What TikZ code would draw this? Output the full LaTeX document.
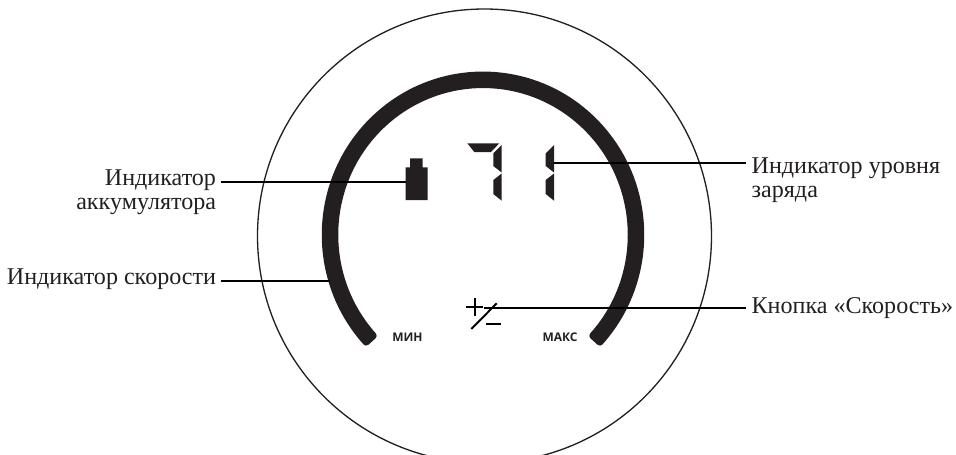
\documentclass[tikz,border=0pt]{standalone}
\usepackage{fontspec}
\setmainfont{Liberation Serif}
\newfontfamily\scalefont{Open Sans}
\usetikzlibrary{positioning, calc}
\definecolor{ink}{HTML}{231F20}

\begin{document}
\begin{tikzpicture}[
    lbl/.style={font=\fontsize{13.7}{13.7}\selectfont, inner sep=0pt, outer xsep=3pt, outer ysep=0pt, ink},
    seg/.style={fill=ink, draw=none},
    lead/.style={line width=1.1pt, black},
    scalelbl/.style={font=\scalefont\bfseries\fontsize{6.8}{7}\selectfont, inner sep=0pt, ink}
]
\useasboundingbox (0, 0) rectangle (19.12, 9.08);
\clip (0, 0) rectangle (19.12, 9.08);

% Housing
\draw[line width=0.75pt, ink] (9.69, 4.36) circle (4.54);

% Speed arc
\coordinate (arccentre) at (9.66, 4.384);
\filldraw[ink, line width=0.14cm, line join=round] ($(arccentre)+(222.2:3.155 and 3.195)$)
    arc[start angle=222.2, end angle=-42.2, x radius=3.155, y radius=3.195]
    -- ($(arccentre)+(-42.2:2.965 and 3.005)$)
    arc[start angle=-42.2, end angle=222.2, x radius=2.965, y radius=3.005] -- cycle;

% Scale ends
\node[scalelbl] (minlbl) at (8.15, 2.33) {МИН};
\node[scalelbl] (maxlbl) at (11.2, 2.33) {МАКС};

% Battery
\fill[seg] (8.2, 5.914) -- (8.454, 5.914) -- (8.454, 5.734) -- (8.554, 5.734) -- (8.554, 5.08)
    -- (8.114, 5.08) -- (8.114, 5.734) -- (8.2, 5.734) -- cycle;

% Digit 7
\fill[seg] (9.346, 6.214) -- (9.986, 6.214) -- (9.82, 6.04) -- (9.486, 6.04) -- cycle;
\fill[seg] (10.034, 6.18) -- (10.034, 5.63) -- (9.866, 5.76) -- (9.866, 6.014) -- cycle;
\fill[seg] (10.034, 5.61) -- (9.866, 5.48) -- (9.866, 5.2) -- (10.034, 5.066) -- cycle;

% Digit 1
\fill[seg] (11.08, 6.18) -- (10.914, 6.014) -- (10.914, 5.76) -- (11.08, 5.63) -- cycle;
\fill[seg] (11.08, 5.61) -- (10.914, 5.48) -- (10.914, 5.2) -- (11.08, 5.066) -- cycle;

% Plus, slash, minus
\draw[lead] (9.32, 2.934) -- (9.666, 2.934);
\draw[lead] (9.494, 3.12) -- (9.494, 2.766);
\draw[lead] (9.426, 2.5) -- (9.934, 3.014);
\draw[lead] (9.72, 2.606) -- (10.014, 2.606);

% Labels
\node[lbl, anchor=north east, align=right] (battlbl) at (4.426, 5.68) {Индикатор\\аккумулятора};
\node[lbl, anchor=base east] (speedlbl) at (4.426, 3.394) {Индикатор скорости};
\node[lbl, anchor=north west, align=left] (chargelbl) at (14.928, 5.93) {Индикатор уровня\\заряда};
\node[lbl, anchor=base west] (buttonlbl) at (14.928, 2.82) {Кнопка «Скорость»};

% Leader ends
\coordinate (batt) at (8.114, 5.44);
\coordinate (arcpt) at (6.6, 3.46);
\coordinate (digit) at (11.08, 5.82);
\coordinate (plus) at (9.686, 2.92);

\draw[lead] (battlbl.east |- batt) -- (batt);
\draw[lead] (speedlbl.east |- arcpt) -- (arcpt);
\draw[lead] (chargelbl.west |- digit) -- (digit);
\draw[lead] (buttonlbl.west |- plus) -- (plus);

\end{tikzpicture}
\end{document}
